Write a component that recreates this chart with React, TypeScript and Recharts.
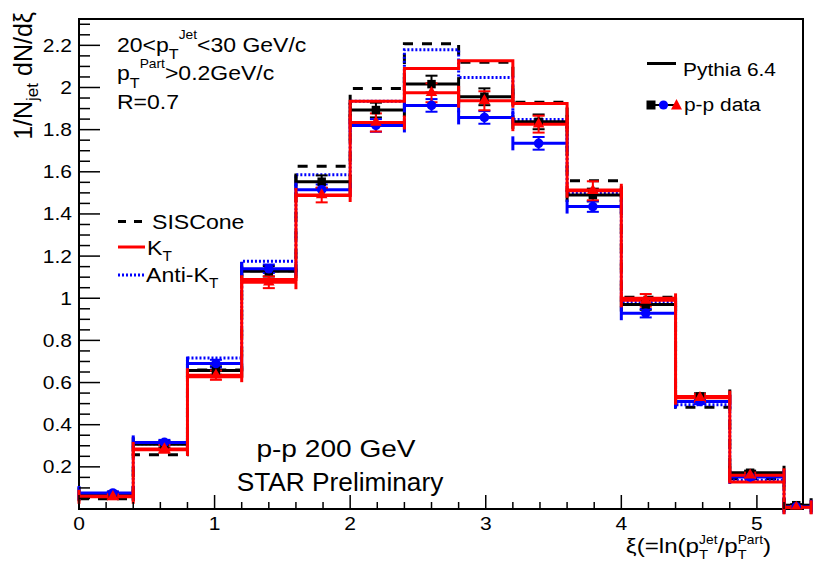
import {
  ComposedChart,
  Line,
  Scatter,
  XAxis,
  YAxis,
  ZAxis,
  ErrorBar,
  ReferenceArea,
} from 'recharts';

const FONT = "'Liberation Sans', Arial, Helvetica, sans-serif";

// xi bin edges, the last bin runs past the frame
const binEdges = [0, 0.4, 0.8, 1.2, 1.6, 2.0, 2.4, 2.8, 3.2, 3.6, 4.0, 4.4, 4.8, 5.2, 5.6];

// Pythia 6.4 histograms
const sisCone = [0.049, 0.258, 0.66, 1.13, 1.626, 1.995, 2.208, 2.12, 1.93, 1.558, 1.005, 0.483, 0.144, 0.01];
const kT = [0.06, 0.281, 0.627, 1.089, 1.487, 1.935, 2.09, 2.127, 1.924, 1.514, 1.0, 0.534, 0.128, 0.004];
const antiKT = [0.074, 0.31, 0.717, 1.175, 1.586, 1.935, 2.179, 2.047, 1.848, 1.498, 0.98, 0.495, 0.136, 0.008];

// p-p data points (mean xi in each bin)
const dataXi = [0.25, 0.63, 1.01, 1.4, 1.79, 2.19, 2.6, 2.99, 3.39, 3.79, 4.18, 4.58, 4.95, 5.29];
const dataLo = [0, 0.4, 0.8, 1.2, 1.6, 2.0, 2.4, 2.8, 3.2, 3.6, 4.0, 4.4, 4.8, 5.2];
const dataHi = [0.4, 0.8, 1.2, 1.6, 2.0, 2.4, 2.8, 3.2, 3.6, 4.0, 4.4, 4.8, 5.2, 5.4];

const dataSis = [0.07, 0.307, 0.657, 1.128, 1.553, 1.893, 2.016, 1.956, 1.837, 1.49, 0.97, 0.534, 0.172, 0.018];
const errSis = [0.01, 0.015, 0.02, 0.025, 0.03, 0.035, 0.04, 0.04, 0.035, 0.03, 0.025, 0.015, 0.01, 0.005];
const dataAnti = [0.076, 0.316, 0.69, 1.14, 1.515, 1.82, 1.915, 1.858, 1.735, 1.435, 0.929, 0.51, 0.152, 0.01];
const errAnti = [0.008, 0.012, 0.018, 0.02, 0.025, 0.03, 0.03, 0.03, 0.03, 0.025, 0.02, 0.012, 0.008, 0.004];
const dataKt = [0.058, 0.285, 0.635, 1.076, 1.49, 1.834, 1.975, 1.937, 1.826, 1.51, 0.99, 0.528, 0.16, 0.008];
const errKt = [0.012, 0.018, 0.022, 0.028, 0.035, 0.043, 0.045, 0.045, 0.04, 0.045, 0.03, 0.018, 0.012, 0.006];

const xTicks = [0, 0.2, 0.4, 0.6, 0.8, 1, 1.2, 1.4, 1.6, 1.8, 2, 2.2, 2.4, 2.6, 2.8, 3, 3.2, 3.4, 3.6, 3.8, 4, 4.2, 4.4, 4.6, 4.8, 5, 5.2];
const xLabels = ['0', '1', '2', '3', '4', '5'];
const yMajor = [0.2, 0.4, 0.6, 0.8, 1, 1.2, 1.4, 1.6, 1.8, 2, 2.2];
const yLabels = ['0.2', '0.4', '0.6', '0.8', '1', '1.2', '1.4', '1.6', '1.8', '2', '2.2'];

const X_MAX = 5.34;
const Y_MAX = 2.325;

const yTicks: number[] = [];
for (let i = 1; i <= 46; i++) yTicks.push(+(i * 0.05).toFixed(2));

const hist = (vals: number[]) =>
  binEdges.map((x, i) => ({ x, y: vals[Math.min(i, vals.length - 1)] }));

const points = (vals: number[], errs: number[]) =>
  dataXi.map((x, i) => ({ x, y: vals[i], xe: [x - dataLo[i], dataHi[i] - x], ye: errs[i] }));

function XTick({ x, y, payload }: any) {
  const v = payload.value;
  const major = Math.abs(v - Math.round(v)) < 1e-6;
  return (
    <g>
      <line x1={x} x2={x} y1={y} y2={y - (major ? 14 : 7)} stroke="#000" strokeWidth={1.5} />
      {major && (
        <text
          transform={`translate(${x},${y + 21}) scale(1.2,1)`}
          textAnchor="middle"
          fontSize={17.5}
          fontFamily={FONT}
          fill="#000"
        >
          {xLabels[Math.round(v)]}
        </text>
      )}
    </g>
  );
}

function YTick({ x, y, payload }: any) {
  const v = payload.value;
  const idx = yMajor.findIndex((m) => Math.abs(m - v) < 1e-6);
  const major = idx >= 0;
  return (
    <g>
      <line x1={x} x2={x + (major ? 21 : 11)} y1={y} y2={y} stroke="#000" strokeWidth={1.5} />
      {major && (
        <text
          transform={`translate(${x - 7},${y + 6.5}) scale(1.2,1)`}
          textAnchor="end"
          fontSize={17.5}
          fontFamily={FONT}
          fill="#000"
        >
          {yLabels[idx]}
        </text>
      )}
    </g>
  );
}

function Txt({ x, y, size, sx = 1.15, anchor = 'start', children }: any) {
  return (
    <text
      transform={`translate(${x},${y}) scale(${sx},1)`}
      fontSize={size}
      textAnchor={anchor}
      fontFamily={FONT}
      fill="#000"
    >
      {children}
    </text>
  );
}

function Overlay() {
  return (
    <svg
      width={831}
      height={572}
      style={{ position: 'absolute', left: 0, top: 0, pointerEvents: 'none' }}
    >
      {/* y title */}
      <text transform="translate(32,12) rotate(-90)" textAnchor="end" fontSize={25} fontFamily={FONT}>
        1/N<tspan fontSize={17} dy={6}>jet</tspan>
        <tspan dy={-6}> dN/dξ</tspan>
      </text>
      {/* x title */}
      <Txt x={771} y={553} size={21} sx={1.15} anchor="end">
        ξ(=ln(p<tspan fontSize={13} dy={6}>T</tspan>
        <tspan fontSize={12} dx={-7.9} dy={-15}>Jet</tspan>
        <tspan dy={9}>/p</tspan>
        <tspan fontSize={13} dy={6}>T</tspan>
        <tspan fontSize={12} dx={-7.9} dy={-15}>Part</tspan>
        <tspan dy={9}>)</tspan>
      </Txt>

      {/* cuts */}
      <Txt x={117} y={52} size={20}>
        20&lt;p<tspan fontSize={14} dy={7}>T</tspan>
        <tspan fontSize={12} dy={-20}>Jet</tspan>
        <tspan dy={13}>&lt;30 GeV/c</tspan>
      </Txt>
      <Txt x={117} y={80} size={20}>
        p<tspan fontSize={14} dy={8}>T</tspan>
        <tspan fontSize={12} dy={-20}>Part</tspan>
        <tspan dy={12}>&gt;0.2GeV/c</tspan>
      </Txt>
      <Txt x={117} y={109} size={20}>R=0.7</Txt>

      {/* algorithm legend */}
      <line x1={118} x2={142} y1={221.5} y2={221.5} stroke="#000" strokeWidth={3} strokeDasharray="8 8" />
      <Txt x={152} y={228.5} size={21} sx={1.1}>SISCone</Txt>
      <line x1={118} x2={145} y1={247} y2={247} stroke="#ff0000" strokeWidth={3} />
      <Txt x={147} y={255} size={21} sx={1.1}>
        K<tspan fontSize={14} dy={6}>T</tspan>
      </Txt>
      <line x1={118} x2={145} y1={275} y2={275} stroke="#0000ff" strokeWidth={3} strokeDasharray="2 2" />
      <Txt x={146} y={282} size={21} sx={1.1}>
        Anti-K<tspan fontSize={14} dy={6}>T</tspan>
      </Txt>

      {/* right legend */}
      <line x1={647} x2={676} y1={63.5} y2={63.5} stroke="#000" strokeWidth={3} />
      <Txt x={683} y={75.5} size={19} sx={1.1}>Pythia 6.4</Txt>
      <line x1={651} x2={676} y1={105} y2={105} stroke="#000" strokeWidth={2} />
      <rect x={646.5} y={100.5} width={9} height={9} fill="#000" />
      <circle cx={663.5} cy={105} r={4.6} fill="#0000ff" />
      <polygon points="676.5,99 682,109.5 671,109.5" fill="#ff0000" />
      <Txt x={684} y={111} size={19} sx={1.1}>p-p data</Txt>

      {/* experiment label */}
      <Txt x={336} y={457} size={24} sx={1.17} anchor="middle">p-p 200 GeV</Txt>
      <Txt x={340} y={491} size={25} sx={1.05} anchor="middle">STAR Preliminary</Txt>
    </svg>
  );
}

export default function App() {
  return (
    <div style={{ position: 'absolute', left: 0, top: 0, width: 831, height: 572, background: '#fff' }}>
      <ComposedChart width={831} height={572} margin={{ top: 19, right: 28, bottom: 33, left: 19 }}>
        <XAxis
          type="number"
          dataKey="x"
          domain={[0, X_MAX]}
          allowDataOverflow
          ticks={xTicks}
          interval={0}
          tick={<XTick />}
          tickLine={false}
          tickSize={0}
          tickMargin={0}
          axisLine={false}
          height={30}
        />
        <YAxis
          type="number"
          dataKey="y"
          domain={[0, Y_MAX]}
          allowDataOverflow
          ticks={yTicks}
          interval={0}
          tick={<YTick />}
          tickLine={false}
          tickSize={0}
          tickMargin={0}
          axisLine={false}
          width={60}
        />
        <ZAxis zAxisId="a" range={[72, 72]} />
        <ZAxis zAxisId="b" range={[58, 58]} />

        <Line
          data={hist(sisCone)}
          dataKey="y"
          type="stepAfter"
          stroke="#000"
          strokeWidth={3}
          strokeDasharray="10 9"
          dot={false}
          isAnimationActive={false}
        />
        <Line
          data={hist(antiKT)}
          dataKey="y"
          type="stepAfter"
          stroke="#0000ff"
          strokeWidth={3}
          strokeDasharray="2 2"
          dot={false}
          isAnimationActive={false}
        />
        <Scatter data={points(dataSis, errSis)} dataKey="y" zAxisId="a" shape="square" fill="#000" isAnimationActive={false}>
          <ErrorBar dataKey="xe" direction="x" width={7} stroke="#000" strokeWidth={3} />
          <ErrorBar dataKey="ye" direction="y" width={6} stroke="#000" strokeWidth={2} />
        </Scatter>
        <Scatter data={points(dataAnti, errAnti)} dataKey="y" zAxisId="a" shape="circle" fill="#0000ff" isAnimationActive={false}>
          <ErrorBar dataKey="xe" direction="x" width={7} stroke="#0000ff" strokeWidth={3} />
          <ErrorBar dataKey="ye" direction="y" width={6} stroke="#0000ff" strokeWidth={2} />
        </Scatter>
        <Line
          data={hist(kT)}
          dataKey="y"
          type="stepAfter"
          stroke="#ff0000"
          strokeWidth={3}
          dot={false}
          isAnimationActive={false}
        />
        <Scatter data={points(dataKt, errKt)} dataKey="y" zAxisId="b" shape="triangle" fill="#ff0000" isAnimationActive={false}>
          <ErrorBar dataKey="xe" direction="x" width={7} stroke="#ff0000" strokeWidth={3} />
          <ErrorBar dataKey="ye" direction="y" width={6} stroke="#ff0000" strokeWidth={2} />
        </Scatter>

        <ReferenceArea x1={0} x2={X_MAX} y1={0} y2={Y_MAX} fill="none" stroke="#000" strokeWidth={2} ifOverflow="visible" />
      </ComposedChart>
      <Overlay />
    </div>
  );
}
